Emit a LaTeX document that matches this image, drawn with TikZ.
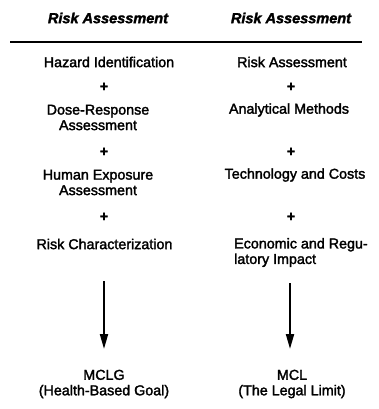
\documentclass[tikz,border=0pt]{standalone}
\usepackage{fontspec}
\setmainfont{Liberation Sans}[FakeBold=2]
\usetikzlibrary{arrows.meta}
\begin{document}
\begin{tikzpicture}[x=1pt,y=-1pt,
  txt/.style={inner sep=0pt, align=center, font=\fontsize{14.3}{15.5}\selectfont},
  hdr/.style={inner sep=0pt, font=\fontsize{14.5}{16}\selectfont\bfseries\itshape},
  plus/.style={inner sep=0pt, font=\fontsize{14.3}{16}\selectfont\bfseries},
  flow/.style={line width=2pt, -{Triangle[length=15pt,width=8pt]}}]
\useasboundingbox (0,0) rectangle (379,409);
% headers
\node[hdr] (h1) at (108,18) {Risk Assessment};
\node[hdr] (h2) at (291,18) {Risk Assessment};
\coordinate (l1) at (10,42);
\coordinate (l2) at (362,42);
\draw[line width=1.6pt] (l1) -- (l2);
% left column
\node[txt] (a1) at (109,62) {Hazard Identification};
\node[plus] (p1) at (104,87) {+};
\node[txt] (a2) at (98,117.5) {Dose-Response\\Assessment};
\node[plus] (p2) at (104,152) {+};
\node[txt] (a3) at (98,182.5) {Human Exposure\\Assessment};
\node[plus] (p3) at (104,217) {+};
\node[txt] (a4) at (104.5,244) {Risk Characterization};
\node[txt] (a5) at (104,384) {MCLG\\(Health-Based Goal)};
% right column
\node[txt] (b1) at (292,62) {Risk Assessment};
\node[plus] (q1) at (291,87) {+};
\node[txt] (b2) at (289,110) {Analytical Methods};
\node[plus] (q2) at (291,152) {+};
\node[txt] (b3) at (295,175) {Technology and Costs};
\node[plus] (q3) at (291,217) {+};
\node[txt, align=left, anchor=west] (b4) at (234,252.5) {Economic and Regu-\\latory Impact};
\node[txt] (b5) at (292,384) {MCL\\(The Legal Limit)};
% arrows
\coordinate (s1) at (104,281);
\coordinate (e1) at (104,349);
\coordinate (s2) at (290,283);
\coordinate (e2) at (290,349);
\draw[flow] (s1) -- (e1);
\draw[flow] (s2) -- (e2);
\end{tikzpicture}
\end{document}
